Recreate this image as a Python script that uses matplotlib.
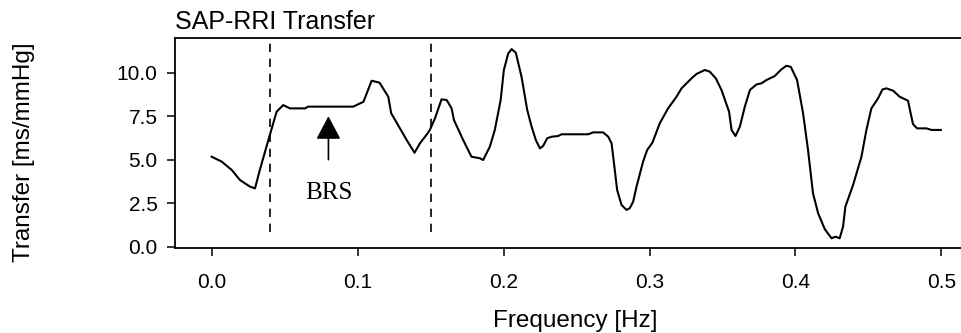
import matplotlib
matplotlib.use("Agg")
import matplotlib.pyplot as plt

# transfer function magnitude
freq = [0.0, 0.0068, 0.0137, 0.0194, 0.0262, 0.0297, 0.033, 0.0395, 0.0445, 0.049,
        0.0536, 0.064, 0.066, 0.097, 0.104, 0.1096, 0.115, 0.121, 0.123, 0.129,
        0.1336, 0.139, 0.1427, 0.148, 0.1495, 0.153, 0.1575, 0.161, 0.1644, 0.166,
        0.1723, 0.178, 0.1838, 0.186, 0.1906, 0.194, 0.198, 0.2002, 0.2032, 0.2055,
        0.2084, 0.2123, 0.2162, 0.2192, 0.2221, 0.2249, 0.2271, 0.2299, 0.2329, 0.2374,
        0.2397, 0.258, 0.2614, 0.2682, 0.2717, 0.274, 0.2762, 0.2778, 0.2808, 0.2842,
        0.2865, 0.2888, 0.2911, 0.2956, 0.2984, 0.302, 0.307, 0.3127, 0.3185, 0.3219,
        0.3288, 0.3322, 0.3379, 0.3413, 0.3454, 0.3493, 0.3545, 0.3562, 0.3589, 0.3619,
        0.3653, 0.3688, 0.3733, 0.3767, 0.3801, 0.3858, 0.3904, 0.3938, 0.3968, 0.4011,
        0.4052, 0.4086, 0.412, 0.4155, 0.4201, 0.4247, 0.4274, 0.4303, 0.4326, 0.4342,
        0.4395, 0.4452, 0.4486, 0.452, 0.4566, 0.4596, 0.4623, 0.4669, 0.4714, 0.4771,
        0.4805, 0.4833, 0.4897, 0.4932, 0.4996]
transfer = [5.17, 4.89, 4.41, 3.83, 3.45, 3.35, 4.41, 6.32, 7.76, 8.14,
            7.95, 7.95, 8.05, 8.05, 8.33, 9.54, 9.43, 8.62, 7.67, 6.80,
            6.13, 5.40, 5.94, 6.52, 6.71, 7.38, 8.47, 8.43, 7.95, 7.28,
            6.13, 5.17, 5.08, 4.98, 5.75, 6.71, 8.43, 10.16, 11.11, 11.36,
            11.15, 9.77, 7.86, 6.90, 6.13, 5.65, 5.79, 6.23, 6.32, 6.36,
            6.46, 6.46, 6.57, 6.57, 6.32, 5.94, 4.41, 3.26, 2.40, 2.11,
            2.21, 2.59, 3.45, 4.89, 5.56, 5.98, 7.09, 7.95, 8.62, 9.10,
            9.68, 9.93, 10.16, 10.06, 9.68, 9.01, 7.76, 6.71, 6.36, 6.90,
            8.05, 9.01, 9.33, 9.39, 9.58, 9.81, 10.20, 10.40, 10.34, 9.58,
            7.67, 5.56, 3.07, 1.92, 1.00, 0.48, 0.57, 0.48, 1.15, 2.30,
            3.55, 5.17, 6.71, 7.95, 8.53, 9.04, 9.10, 8.97, 8.62, 8.39,
            7.05, 6.80, 6.80, 6.71, 6.71]

band_edges = [0.04, 0.15]
x_ticks = [0.0, 0.1, 0.2, 0.3, 0.4, 0.5]
y_ticks = [0.0, 2.5, 5.0, 7.5, 10.0]

plt.rcParams["font.family"] = ["Liberation Sans", "DejaVu Sans"]

fig = plt.figure(figsize=(9.61, 3.33), dpi=100)
ax = fig.add_axes([0.1826, 0.2553, 0.835, 0.6291])

ax.plot(freq, transfer, color="black", lw=1.5)
for f in band_edges:
    ax.plot([f, f], [0.85, 11.7], color="black", lw=1.2, ls=(0, (5, 4)))

ax.annotate("", xy=(0.08, 7.5), xytext=(0.08, 5.0),
            arrowprops=dict(arrowstyle="-|>,head_length=1.0,head_width=0.53",
                            mutation_scale=14.4, color="black", lw=1.2,
                            shrinkA=0, shrinkB=0))
ax.text(0.08, 3.1, "BRS", ha="center", va="center", fontsize=18,
        family=["Liberation Serif", "DejaVu Serif"])

ax.set_xlim(-0.0248, 0.525)
ax.set_ylim(-0.08, 11.97)
ax.set_xticks(x_ticks)
ax.set_xticklabels([f"{t:.1f}" for t in x_ticks])
ax.set_yticks(y_ticks)
ax.set_yticklabels([f"{t:.1f}" for t in y_ticks])
ax.tick_params(direction="out", length=6, width=1.1, labelsize=15)
ax.tick_params(axis="x", pad=12)
ax.tick_params(axis="y", pad=7)
ax.spines["right"].set_visible(False)
for s in ["left", "top", "bottom"]:
    ax.spines[s].set_linewidth(1.3)

fig.text(575 / 961, 1 - 327 / 333, "Frequency [Hz]", ha="center", va="baseline", fontsize=17.5)
fig.text(0.025, 0.543, "Transfer [ms/mmHg]", rotation=90, ha="center", va="center", fontsize=17.5)
fig.text(175 / 961, 1 - 29.3 / 333, "SAP-RRI Transfer", ha="left", va="baseline", fontsize=18)

fig.savefig("out.png", dpi=100)
